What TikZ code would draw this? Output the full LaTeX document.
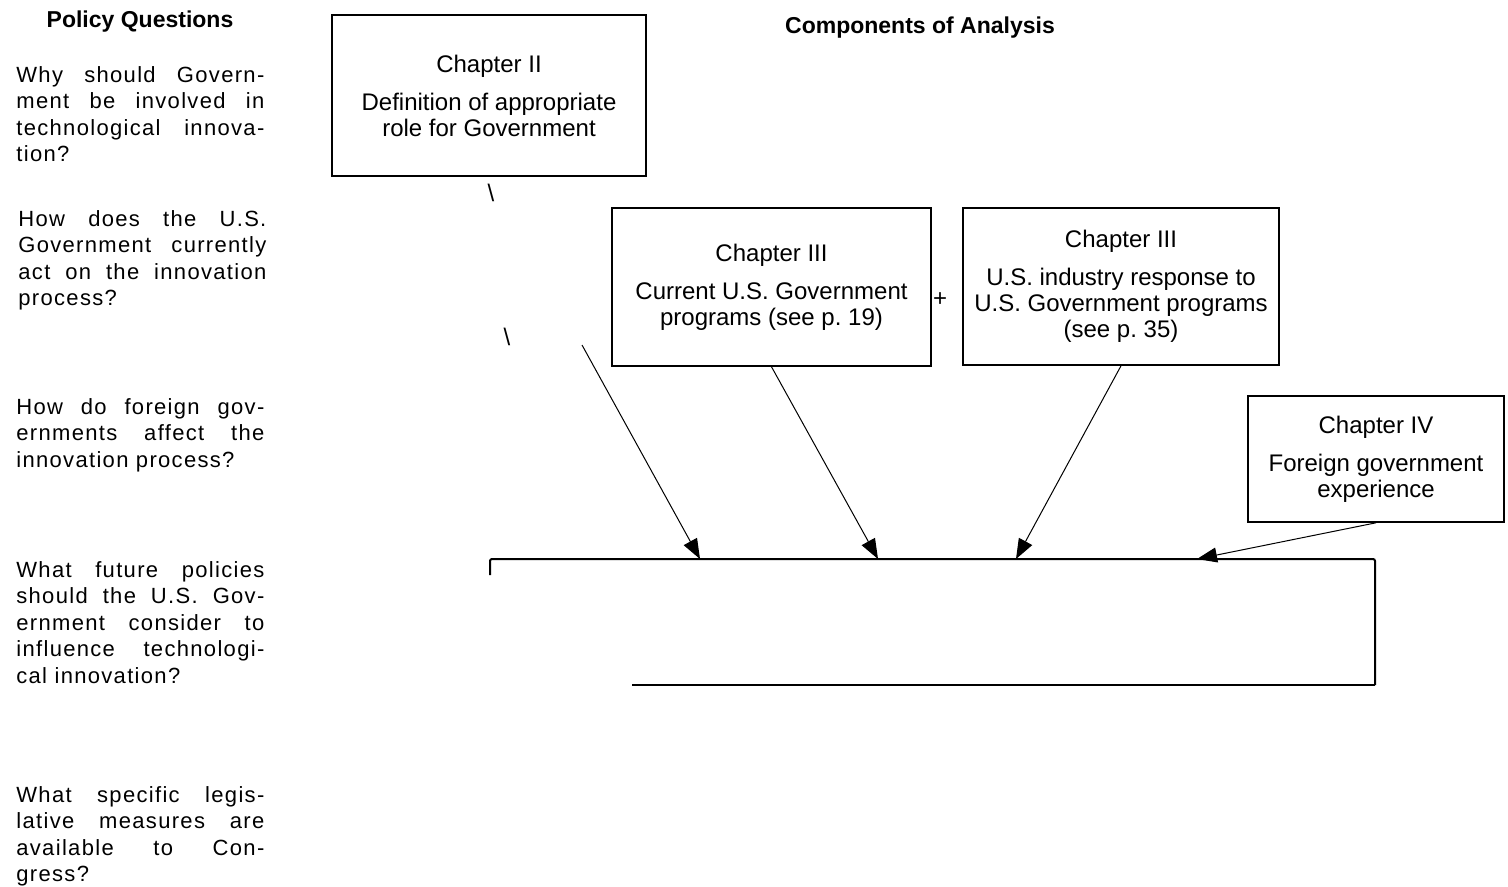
\documentclass[tikz,border=0pt]{standalone}
\usepackage{fontspec}
\setmainfont{Liberation Sans}
\newfontfamily\questionfont[LetterSpace=6]{Liberation Sans}
\usetikzlibrary{arrows.meta}

\begin{document}
\begin{tikzpicture}[x=0.5pt, y=-0.5pt,
  chapter/.style={draw, line width=0.8pt, align=center, inner sep=0pt, font=\fontsize{12}{13}\selectfont},
  question/.style={anchor=north west, inner sep=0pt, text width=124pt, align=justify, font=\questionfont\fontsize{11}{13.25}\selectfont},
  heading/.style={font=\fontsize{11.5}{14}\selectfont\bfseries},
  feed/.style={-{Triangle[length=10pt,width=7.5pt]}, line width=0.5pt}]
\useasboundingbox (0,0) rectangle (1508,887);
% headings
\node[heading] (hq) at (140,22) {Policy Questions};
\node[heading] (ha) at (920,28) {Components of Analysis};
% policy questions
\node[question] (q1) at (16,66) {Why should Govern-\linebreak ment be involved in\linebreak technological innova-\linebreak tion?};
\node[question] (q2) at (18,210) {How does the U.S.\linebreak Government currently\linebreak act on the innovation\linebreak process?};
\node[question] (q3) at (16,398) {How do foreign gov-\linebreak ernments affect the\linebreak innovation process?};
\node[question] (q4) at (16,561) {What future policies\linebreak should the U.S. Gov-\linebreak ernment consider to\linebreak influence technologi-\linebreak cal innovation?};
\node[question] (q5) at (16,786) {What specific legis-\linebreak lative measures are\linebreak available to Con-\linebreak gress?};
% components
\node[chapter, minimum width=157pt, minimum height=80.5pt] (ch2) at (489,95.5) {Chapter II\\[6pt] Definition of appropriate\\ role for Government};
\node[chapter, minimum width=159.5pt, minimum height=79pt] (ch3a) at (771.5,287) {Chapter III\\[6pt] Current U.S. Government\\ programs (see p.\ 19)};
\node[chapter, minimum width=158pt, minimum height=78.5pt] (ch3b) at (1121,286.5) {Chapter III\\[6pt] U.S. industry response to\\ U.S. Government programs\\ (see p.\ 35)};
\node[chapter, minimum width=128pt, minimum height=63pt] (ch4) at (1376,459) {Chapter IV\\[6pt] Foreign government\\ experience};
\node[font=\fontsize{12}{13}\selectfont] (plus) at (940,300) {+};
\node[font=\fontsize{12}{13}\selectfont] (bs1) at (491,193) {\textbackslash};
\node[font=\fontsize{12}{13}\selectfont] (bs2) at (507,337) {\textbackslash};
% result box
\coordinate (res-nw) at (490,559);
\coordinate (res-ne) at (1375,559);
\coordinate (res-se) at (1375,685);
\coordinate (res-sw) at (632,685);
\draw[line width=1pt, rounded corners=1pt] (490,575) -- (res-nw) -- (res-ne) -- (res-se);
\draw[line width=0.6pt] (res-se) -- (res-sw);
\coordinate (in1) at (700,559);
\coordinate (in2) at (878,559);
\coordinate (in3) at (1016,559);
\coordinate (in4) at (1197,559);
\coordinate (gov) at (582,345);
\draw[feed] (gov) -- (in1);
\draw[feed] (ch3a.south) -- (in2);
\draw[feed] (ch3b.south) -- (in3);
\draw[feed] (ch4.south) -- (in4);
\end{tikzpicture}
\end{document}
